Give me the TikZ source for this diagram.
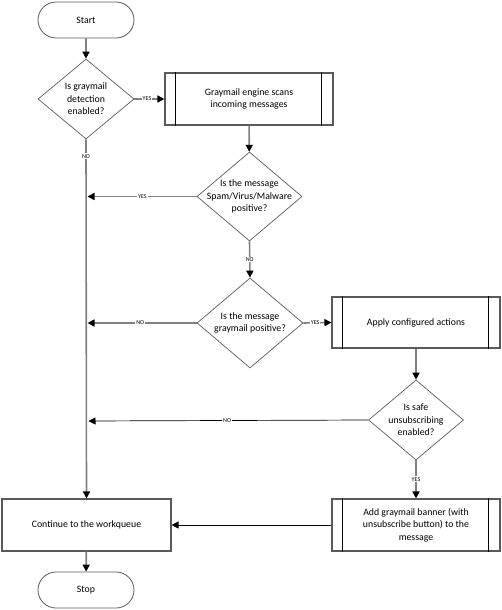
\documentclass[tikz,border=0pt]{standalone}
\usepackage{fontspec}
\setmainfont{Carlito}
\usetikzlibrary{shapes.geometric,shapes.misc,arrows.meta}
\definecolor{lgray}{HTML}{808080}
\definecolor{bgray}{HTML}{5A5A5A}
\tikzset{
  txt/.style={font=\fontsize{9.8}{12.5}\selectfont, align=center, text=black},
  term/.style={rounded rectangle, draw=bgray, line width=0.8pt, minimum width=96pt, minimum height=36pt, inner sep=0pt, txt},
  dec/.style={diamond, draw=bgray, line width=0.7pt, inner sep=0pt},
  proc/.style={rectangle, draw=bgray, line width=1.1pt, inner sep=0pt, txt},
  flow/.style={draw=lgray, line width=1.6pt, -{Triangle[length=7pt,width=7pt,color=black]}},
  thin/.style={draw=black, line width=0.7pt, -{Triangle[length=7pt,width=7pt,color=black]}},
  lbl/.style={font=\fontsize{6}{6.5}\selectfont, fill=white, inner sep=1pt, text=black},
  innerln/.style={draw=black, line width=0.7pt}
}
\begin{document}
\begin{tikzpicture}[x=1pt,y=-1pt]
\useasboundingbox (0,0) rectangle (502,610);
% nodes
\node[term] (start) at (86,20) {Start};
\node[dec, minimum width=96pt, minimum height=80pt] (d1) at (86,99) {};
\node[txt] at (d1) {Is graymail\\detection\\enabled?};
\node[proc, minimum width=168pt, minimum height=52pt] (p1) at (249,99) {Graymail engine scans\\incoming messages};
\node[dec, minimum width=105pt, minimum height=89pt] (d2) at (249.5,196.5) {};
\node[txt] at (d2) {Is the message\\Spam/Virus/Malware\\positive?};
\node[dec, minimum width=106pt, minimum height=90pt] (d3) at (250,323) {};
\node[txt] at (d3) {Is the message\\graymail positive?};
\node[proc, minimum width=168pt, minimum height=51pt] (p2) at (416,322.5) {Apply configured actions};
\node[dec, minimum width=95pt, minimum height=80pt] (d4) at (416,420) {};
\node[txt] at (d4) {Is safe\\unsubscribing\\enabled?};
\node[proc, minimum width=168pt, minimum height=52pt] (p3) at (416,525) {Add graymail banner (with\\unsubscribe button) to the\\message};
\node[proc, minimum width=169pt, minimum height=52pt] (cont) at (86.5,525) {Continue to the workqueue};
\node[term] (stop) at (86,590) {Stop};
% inner lines of predefined process boxes
\foreach \n in {p1,p2,p3}{
  \draw[innerln] ([xshift=11pt]\n.north west) -- ([xshift=11pt]\n.south west);
  \draw[innerln] ([xshift=-12pt]\n.north east) -- ([xshift=-12pt]\n.south east);
}
% coordinates on main line
\coordinate (m2) at (86,196.5);
\coordinate (m3) at (86,323);
\coordinate (m4) at (86,421);
% connectors
\draw[flow] (start) -- (d1);
\draw[flow] (d1.east) -- node[lbl,pos=0.42]{YES} (p1.west);
\draw[flow] (p1) -- (d2);
\draw[flow, shorten >=1.5pt] (d2.west) -- node[lbl,pos=0.49]{YES} (m2);
\draw[flow] (d2.south) -- node[lbl,pos=0.5]{NO} (d3.north);
\draw[flow, shorten >=1.5pt] (d3.west) -- node[lbl,pos=0.51]{NO} (m3);
\draw[flow] (d3.east) -- node[lbl,pos=0.42]{YES} (p2.west);
\draw[flow] (p2) -- (d4);
\draw[thin, shorten >=2.5pt] (d4.west) -- node[lbl,pos=0.5]{NO} (m4);
\draw[flow] (d4.south) -- node[lbl,pos=0.5]{YES} (p3.north);
\draw[thin] (p3.west) -- (cont.east);
\draw[flow] (d1.south) -- node[lbl,pos=0.047]{NO} (cont.north);
\draw[flow] (cont) -- (stop);
\end{tikzpicture}
\end{document}
